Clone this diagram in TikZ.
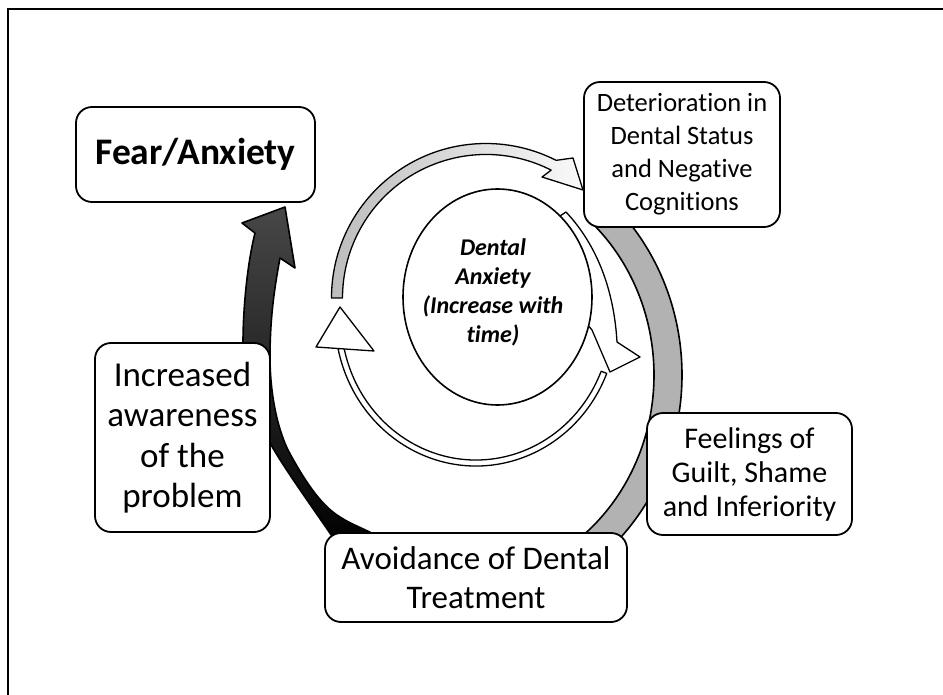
\documentclass[tikz,border=0pt]{standalone}
\usepackage{fontspec}
\setmainfont{Carlito}[Ligatures=NoCommon]
\usetikzlibrary{shapes.geometric}
\begin{document}
\begin{tikzpicture}[x=1pt,y=-1pt,
  box/.style={draw, line width=1.8pt, rounded corners=16pt, fill=white,
    inner sep=0pt, align=center},
  band/.style={draw, line width=1.6pt, line join=round},
  thinband/.style={draw, line width=1.3pt, line join=round},
]
\useasboundingbox (0,0) rectangle (943,695);
\fill[white] (0,0) rectangle (943,695);
% page frame
\draw[line width=2.5pt] (8,695) -- (8,9) -- (943,9);

% grey outer arc on the right
\draw[band, fill=black!30]
  ([shift={(461,375)}]-48:221 and 235)
    arc[start angle=-48, end angle=52, x radius=221, y radius=235]
  -- ([shift={(461,375)}]52:193 and 207)
    arc[start angle=52, end angle=-48, x radius=193, y radius=207]
  -- cycle;

% dark curved arrow on the left
\draw[band, top color=black!72, bottom color=black]
  (340,548) .. controls (318,515) and (285,470) .. (270,443)
  .. controls (252,410) and (242,380) .. (243,343)
  .. controls (243,310) and (247,265) .. (255,233)
  -- (242,223) -- (285,207) -- (295,268) -- (280,258)
  .. controls (274,290) and (270,320) .. (270,357)
  .. controls (270,390) and (276,425) .. (288,450)
  .. controls (303,478) and (320,505) .. (340,517)
  .. controls (352,525) and (368,530) .. (395,545) -- cycle;

% inner cycle: upper arrow
\draw[thinband, left color=black!26, right color=black!2]
  ([shift={(486,298)}]180:154.5) arc[start angle=180, end angle=297, radius=154.5]
  -- (573,158) -- (583,190) -- (542,177)
  -- ([shift={(486,298)}]297:143.5) arc[start angle=297, end angle=180, radius=143.5]
  -- cycle;

% inner cycle: lower arrow
\draw[thinband, fill=white]
  ([shift={(476,318)}]22:141 and 148)
    arc[start angle=22, end angle=168, x radius=141, y radius=148]
  -- ([shift={(476,318)}]168:135 and 142)
    arc[start angle=168, end angle=22, x radius=135, y radius=142]
  -- cycle;
\draw[thinband, fill=white] (340,307) -- (316,347) -- (374,351) -- cycle;

% inner cycle: right arrow (its inner edge lies under the centre ellipse)
\draw[thinband, fill=white]
  (566,212) .. controls (597,245) and (614,290) .. (617,342)
  -- (640,357) -- (610,372) -- (592,330) -- (582,318)
  .. controls (578,280) and (565,245) .. (548,224) -- cycle;

% centre
\draw[line width=1.6pt, fill=white] (497.5,297) ellipse [x radius=94.5, y radius=108];
\coordinate (core) at (497.5,297);
\node[align=center, font=\fontsize{24}{29}\selectfont\bfseries\itshape]
  (coretext) at (493,292) {Dental\\Anxiety\\(Increase with\\time)};

% boxes
\node[box, minimum width=239pt, minimum height=95pt,
  font=\fontsize{37.5}{45}\selectfont\bfseries] (fear) at (195.5,154.5) {Fear/Anxiety};
\node[box, minimum width=196pt, minimum height=145pt,
  font=\fontsize{26.5}{33}\selectfont] (det) at (682,154.5)
  {Deterioration in\\Dental Status\\and Negative\\Cognitions};
\node[box, minimum width=205pt, minimum height=122pt,
  font=\fontsize{30}{34}\selectfont] (feel) at (749.5,474)
  {Feelings of\\Guilt, Shame\\and Inferiority};
\node[box, minimum width=302pt, minimum height=89pt,
  font=\fontsize{33}{39}\selectfont] (avoid) at (476,577.5)
  {Avoidance of Dental\\Treatment};
\node[box, minimum width=175pt, minimum height=189pt,
  font=\fontsize{35}{40.5}\selectfont] (aware) at (182.5,437.5)
  {Increased\\awareness\\of the\\problem};
\end{tikzpicture}
\end{document}
